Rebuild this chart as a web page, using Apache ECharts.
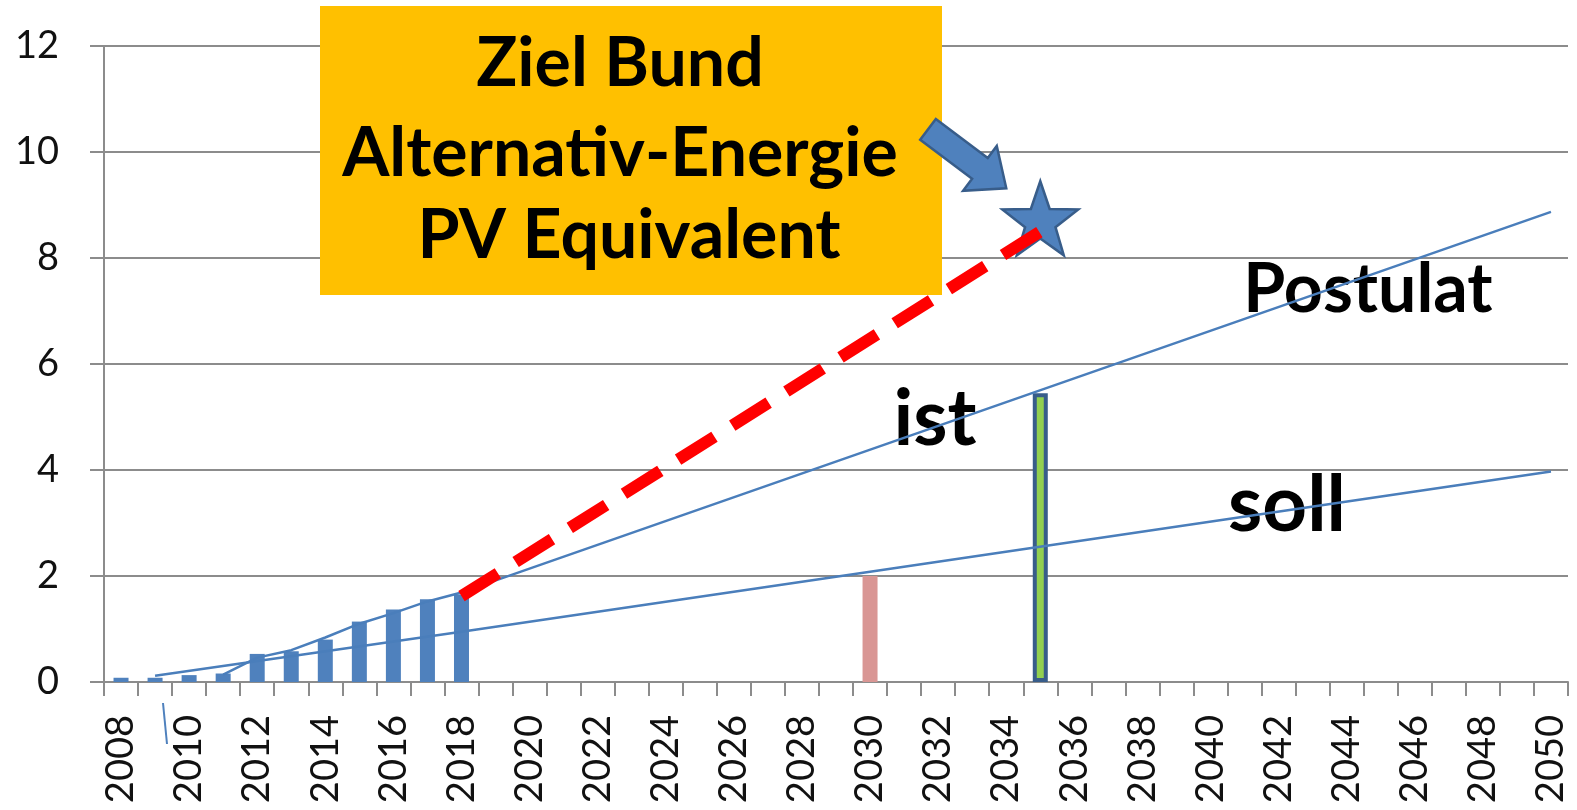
<!DOCTYPE html>
<html>
<head>
<meta charset="utf-8">
<script src="https://cdn.jsdelivr.net/npm/echarts@6/dist/echarts.min.js"></script>
<style>
  html, body { margin: 0; padding: 0; background: #fff; }
  #chart { width: 1577px; height: 810px; }
</style>
</head>
<body>
<div id="chart"></div>
<script>
// Category axis: one slot per year
const years = ['2008','2009','2010','2011','2012','2013','2014','2015','2016','2017','2018',
  '2019','2020','2021','2022','2023','2024','2025','2026','2027','2028','2029','2030',
  '2031','2032','2033','2034','2035','2036','2037','2038','2039','2040','2041','2042',
  '2043','2044','2045','2046','2047','2048','2049','2050'];
const yTicks = [0, 2, 4, 6, 8, 10, 12];

// Installed so far (blue bars)
const installedYears = ['2008','2009','2010','2011','2012','2013','2014','2015','2016','2017','2018'];
const installedValues = [0.08, 0.08, 0.13, 0.16, 0.53, 0.58, 0.80, 1.14, 1.37, 1.56, 1.65];

// Target bar 2030 (pink) and projected bar 2035 (green)
const sollBarYears = ['2030'];
const sollBarValues = [2.0];
const istBarYears = ['2035'];
const istBarValues = [5.45];

// "soll" trend line
const sollLineYears = ['2009', '2018', '2030', '2050'];
const sollLineValues = [0.12, 0.95, 2.08, 3.97];

// "Postulat" trend line
const postulatYears = ['2011','2012','2013','2014','2015','2016','2017','2018','2050'];
const postulatValues = [0.14, 0.46, 0.60, 0.84, 1.10, 1.30, 1.52, 1.69, 8.87];

// Federal target path (red dashed) and its end point (star)
const zielYears = ['2018', '2035'];
const zielValues = [1.62, 8.5];
const starYears = ['2035'];
const starValues = [8.75];

const pairs = (xs, vs) => xs.map((x, i) => [x, vs[i]]);

const BLUE = '#4f81bd';
const BLUE_DARK = '#385d8a';
const AXIS_GRAY = '#8c8c8c';
const FONT = 'Lato';

const starPath = 'path://M50 0 L61.76 33.82 L97.55 34.55 L69.02 56.18 L79.39 90.45 L50 70 L20.61 90.45 L30.98 56.18 L2.45 34.55 L38.24 33.82 Z';

const chart = echarts.init(document.getElementById('chart'), null, { renderer: 'canvas' });

chart.setOption({
  animation: false,
  backgroundColor: '#ffffff',
  grid: { left: 104, right: 9, top: 46, bottom: 128, containLabel: false },
  xAxis: {
    type: 'category',
    data: years,
    boundaryGap: true,
    axisLine: { show: true, lineStyle: { color: AXIS_GRAY, width: 2 } },
    axisTick: { show: true, interval: 0, length: 14, lineStyle: { color: AXIS_GRAY, width: 2 } },
    axisLabel: {
      interval: 1,
      rotate: 90,
      margin: 33,
      fontFamily: FONT,
      fontSize: 38,
      color: '#111'
    },
    splitLine: { show: false }
  },
  yAxis: {
    type: 'value',
    min: yTicks[0],
    max: yTicks[yTicks.length - 1],
    interval: yTicks[1] - yTicks[0],
    axisLine: { show: true, lineStyle: { color: AXIS_GRAY, width: 2 } },
    axisTick: { show: true, length: 14, lineStyle: { color: AXIS_GRAY, width: 2 } },
    axisLabel: {
      margin: 45,
      fontFamily: FONT,
      fontSize: 38,
      color: '#111'
    },
    splitLine: { show: true, lineStyle: { color: AXIS_GRAY, width: 2 } }
  },
  series: [
    {
      name: 'installiert',
      type: 'bar',
      barWidth: 15,
      barGap: '-100%',
      itemStyle: { color: BLUE },
      data: pairs(installedYears, installedValues),
      z: 2
    },
    {
      name: 'soll 2030',
      type: 'bar',
      barWidth: 15,
      barGap: '-100%',
      itemStyle: { color: '#d99694' },
      data: pairs(sollBarYears, sollBarValues),
      z: 2
    },
    {
      name: 'ist 2035',
      type: 'bar',
      barWidth: 15,
      barGap: '-100%',
      itemStyle: { color: '#92d050', borderColor: BLUE_DARK, borderWidth: 4 },
      data: pairs(istBarYears, istBarValues),
      z: 2
    },
    {
      name: 'soll',
      type: 'line',
      showSymbol: false,
      lineStyle: { color: '#4a7ebb', width: 2.5 },
      data: pairs(sollLineYears, sollLineValues),
      z: 4
    },
    {
      name: 'Postulat',
      type: 'line',
      showSymbol: false,
      lineStyle: { color: '#4a7ebb', width: 2.5 },
      data: pairs(postulatYears, postulatValues),
      z: 4
    },
    {
      name: 'Ziel Bund',
      type: 'scatter',
      symbol: starPath,
      symbolSize: [76, 74],
      itemStyle: { color: BLUE, borderColor: BLUE_DARK, borderWidth: 2.5, opacity: 1 },
      data: pairs(starYears, starValues),
      z: 5
    },
    {
      name: 'Zielpfad',
      type: 'line',
      showSymbol: false,
      lineStyle: { color: '#ff0000', width: 12, type: [43, 21], cap: 'butt' },
      data: pairs(zielYears, zielValues),
      z: 6
    }
  ]
});

// Annotations: text box, labels and the block arrow pointing at the star
const star = chart.convertToPixel({ gridIndex: 0 }, [starYears[0], starValues[0]]);
const tip = [star[0] - 34, star[1] - 30];
const ang = Math.atan2(58, 77);
const L = 98, headLen = 33, shaft = 13, head = 28;
const local = [[0, -shaft], [L - headLen, -shaft], [L - headLen, -head], [L, 0],
               [L - headLen, head], [L - headLen, shaft], [0, shaft]];
const ca = Math.cos(ang), sa = Math.sin(ang);
const tail = [tip[0] - L * ca, tip[1] - L * sa];
const arrowPts = local.map(([u, v]) => [tail[0] + u * ca - v * sa, tail[1] + u * sa + v * ca]);

const bold = (size) => 'bold ' + size + 'px ' + FONT;
const label = (text, x, y, size) => ({
  type: 'text', z: 1,
  style: { text, x, y, font: bold(size), fill: '#000', textAlign: 'center', textVerticalAlign: 'middle' }
});

chart.setOption({
  graphic: [
    { type: 'rect', z: 1, shape: { x: 320, y: 6, width: 622, height: 289 }, style: { fill: '#ffc000' } },
    label('Ziel Bund', 620, 64, 68),
    label('Alternativ-Energie', 620, 154, 68),
    label('PV Equivalent', 629, 236, 68),
    label('Postulat', 1368, 290, 68),
    label('ist', 935, 420, 78),
    label('soll', 1287, 506, 78),
    { type: 'polygon', z: 10, shape: { points: arrowPts }, style: { fill: BLUE, stroke: BLUE_DARK, lineWidth: 2.5 } },
    { type: 'line', z: 1, shape: { x1: 163, y1: 703, x2: 167, y2: 744 }, style: { stroke: BLUE, lineWidth: 2 } }
  ]
});
</script>
</body>
</html>
